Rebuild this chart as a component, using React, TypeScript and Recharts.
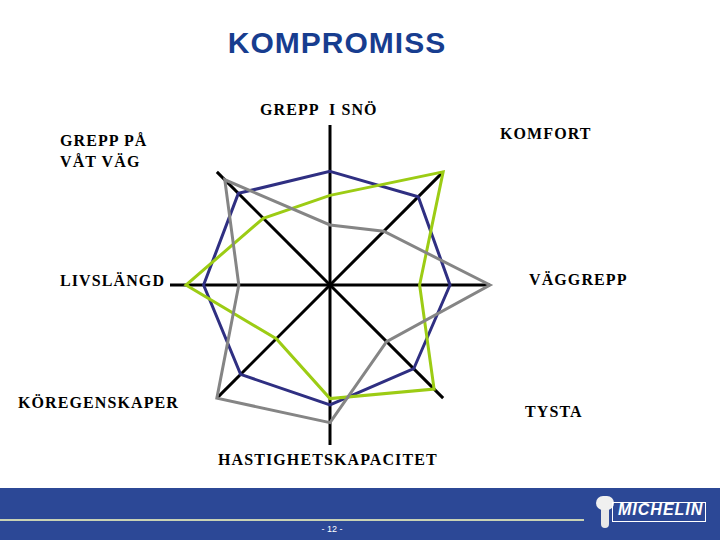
import React from "react";
import { PolarAngleAxis, PolarGrid, PolarRadiusAxis, Radar, RadarChart } from "recharts";

// egenskaper, medurs från toppen
const categories = [
  "GREPP  I SNÖ",
  "KOMFORT",
  "VÄGGREPP",
  "TYSTA",
  "HASTIGHETSKAPACITET",
  "KÖREGENSKAPER",
  "LIVSLÄNGD",
  "GREPP PÅ|VÅT VÄG",
];

// uppskattade värden (skala 0-10)
const blue = [7.1, 7.8, 7.5, 7.4, 7.5, 7.9, 7.9, 8.1];
const green = [5.6, 10, 5.6, 9.2, 7.1, 4.75, 9.0, 5.9];
const grey = [3.75, 4.75, 10, 5.0, 8.6, 10, 5.7, 9.3];

const data = categories.map((name, i) => ({ name, blue: blue[i], green: green[i], grey: grey[i] }));

// label placement (x, baseline y, anchor) per axis
const labelPos: Array<[number, number, "start" | "middle" | "end"]> = [
  [260, 115, "start"],
  [500, 139, "start"],
  [529, 285, "start"],
  [525, 417, "start"],
  [218, 465, "start"],
  [18, 408, "start"],
  [60, 286, "start"],
  [60, 146, "start"],
];

function AxisLabel(props: any) {
  const { payload, index } = props;
  const [x, y, anchor] = labelPos[index];
  const lines = String(payload.value).split("|");
  return (
    <text x={x} y={y} textAnchor={anchor} fontFamily="'Liberation Serif', 'Times New Roman', serif" fontSize={16} fontWeight="bold" letterSpacing={1.1} fill="#000" style={{ whiteSpace: "pre" }}>
      {lines.map((l, i) => (
        <tspan key={i} x={x} dy={i === 0 ? 0 : 20.5}>{l}</tspan>
      ))}
    </text>
  );
}

export default function App() {
  return (
    <div style={{ position: "absolute", left: 0, top: 0, width: 720, height: 540, background: "#fff", overflow: "hidden" }}>
      <div style={{ position: "absolute", left: 0, top: 26, width: 674, textAlign: "center", fontFamily: "'Liberation Sans', Arial, sans-serif", fontWeight: "bold", fontSize: 30, letterSpacing: 1, color: "#173d8f" }}>
        KOMPROMISS
      </div>
      <div style={{ position: "absolute", left: 0, top: 0 }}>
        <RadarChart width={720} height={540} data={data} cx={330} cy={285} outerRadius={160} startAngle={90} endAngle={-270}>
          <PolarGrid gridType="polygon" polarRadius={[]} stroke="#000" strokeWidth={3} strokeOpacity={1} />
          <PolarRadiusAxis domain={[0, 10]} tick={false} axisLine={false} />
          <PolarAngleAxis dataKey="name" tick={<AxisLabel />} axisLine={false} tickLine={false} />
          <Radar dataKey="blue" stroke="#2f2f82" strokeWidth={3} fill="none" isAnimationActive={false} />
          <Radar dataKey="green" stroke="#9ccc14" strokeWidth={3} fill="none" isAnimationActive={false} />
          <Radar dataKey="grey" stroke="#858585" strokeWidth={3} fill="none" isAnimationActive={false} />
        </RadarChart>
      </div>
      <div style={{ position: "absolute", left: 0, top: 488, width: 720, height: 52, background: "#2c4896" }}>
        <div style={{ position: "absolute", left: 0, top: 31, width: 584, height: 2, background: "#c9d2b4" }} />
        <div style={{ position: "absolute", left: 310, top: 36, width: 44, textAlign: "center", color: "#fff", fontFamily: "'Liberation Sans', Arial, sans-serif", fontSize: 9 }}>
          - 12 -
        </div>
        <div style={{ position: "absolute", left: 601, top: 12, width: 8, height: 28, background: "#e8e8e8", borderRadius: 4 }} />
        <div style={{ position: "absolute", left: 596, top: 8, width: 18, height: 14, background: "#f0f0f0", borderRadius: 7 }} />
        <div style={{ position: "absolute", left: 612, top: 14, width: 94, height: 20, border: "1px solid #fff", boxSizing: "border-box" }} />
        <div style={{ position: "absolute", left: 618, top: 13, color: "#fff", fontFamily: "'Liberation Sans', Arial, sans-serif", fontWeight: "bold", fontStyle: "italic", fontSize: 16, letterSpacing: 1 }}>
          MICHELIN
        </div>
      </div>
    </div>
  );
}
